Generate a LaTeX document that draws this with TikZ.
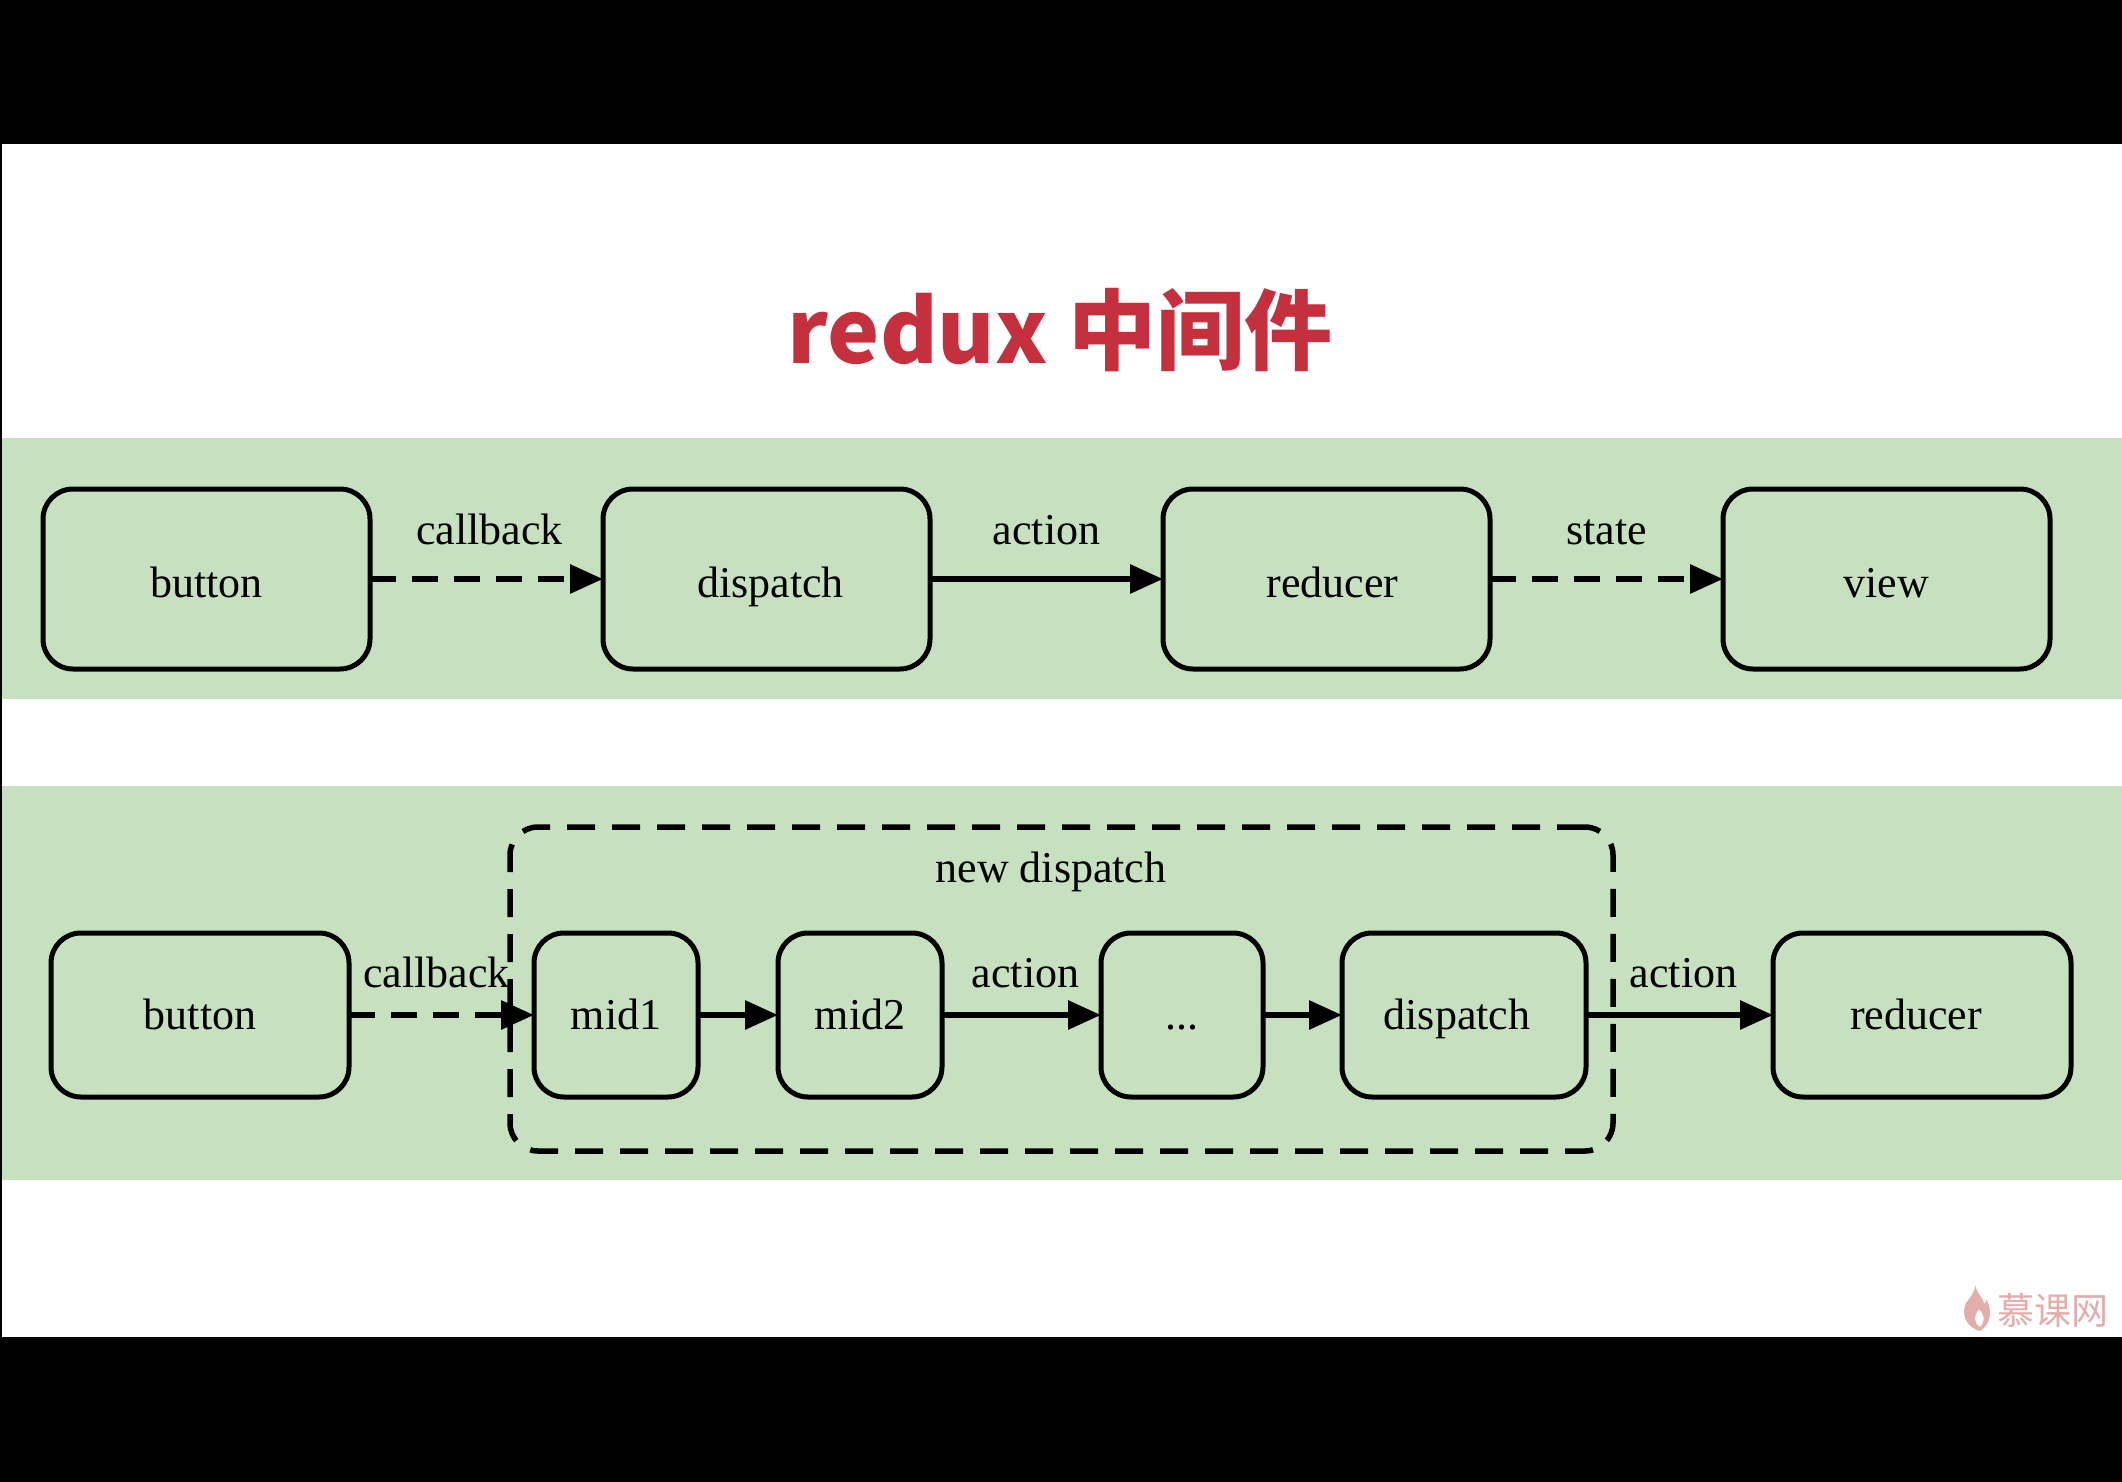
\documentclass[tikz,border=0pt]{standalone}
\usepackage{xcolor}
\usepackage{fontspec}
\usepackage{tikz}
\usetikzlibrary{positioning,arrows.meta}
\setmainfont{Liberation Serif}
\newfontfamily\cjkfont{Noto Sans CJK SC}
\definecolor{bandgreen}{HTML}{C7E0BF}
\definecolor{titlered}{HTML}{C5303F}
\definecolor{markpink}{HTML}{E2ADAB}

\begin{document}
\begin{tikzpicture}[
    x=1pt, y=-1pt,
    every node/.style={font=\fontsize{44}{50}\selectfont, outer sep=0pt},
    band/.style={fill=bandgreen},
    box/.style={draw, line width=5pt, rounded corners=30pt, text depth=9pt},
    wide/.style={box, minimum height=180pt, minimum width=327pt, text height=45pt},
    low/.style={box, minimum height=164pt, minimum width=#1, text height=38pt},
    group/.style={draw, line width=5.5pt, rounded corners=28pt, dash pattern=on 28pt off 17pt},
    flow/.style={line width=6pt, -{Triangle[length=33pt,width=28pt]}},
    flowdash/.style={flow, dash pattern=on 26pt off 16pt},
    tag/.style={inner sep=0pt, text height=30pt, text depth=9pt, above=#1}
]
\useasboundingbox (0,0) rectangle (2122,1482);
\fill[black] (0,0) rectangle (2122,1482);
\fill[white] (1.5,144) rectangle (2122,1337);
\fill[band] (1.5,438) rectangle (2122,699);
\fill[band] (1.5,786) rectangle (2122,1180);

\node[font=\cjkfont\bfseries\fontsize{88}{100}\selectfont, text=titlered] (title) at (1060,330) {redux 中间件};

\node[wide] (button) at (206.5,579) {button};
\node[wide, right=233pt of button] (dispatch) {\hspace*{8pt}dispatch};
\node[wide, right=233pt of dispatch] (reducer) {\hspace*{12pt}reducer};
\node[wide, right=233pt of reducer] (view) {view};

\draw[flowdash] (button) -- node[tag=26pt, xshift=3pt] (callback) {callback} (dispatch);
\draw[flow] (dispatch) -- node[tag=26pt] (action) {action} (reducer);
\draw[flowdash] (reducer) -- node[tag=26pt] (state) {state} (view);

\node[low=298pt] (button2) at (200,1015) {button};
\node[low=164pt, right=185pt of button2] (mid1) {mid1};
\node[low=164pt, right=80pt of mid1] (mid2) {mid2};
\node[low=162pt, right=159pt of mid2] (more) {...};
\node[low=244pt, right=79pt of more] (dispatch2) {dispatch\hspace*{14pt}};
\node[low=298pt, right=187pt of dispatch2] (reducer2) {reducer\hspace*{12pt}};

\node[group, minimum width=1103pt, minimum height=324pt] (newdispatch) at (1061.5,989) {};
\node[inner sep=0pt] (newlabel) at (1051,872) {new dispatch};

\draw[flowdash] (button2) -- node[tag=19pt, xshift=-5pt] (callback2) {callback} (mid1);
\draw[flow] (mid1) -- (mid2);
\draw[flow] (mid2) -- node[tag=19pt, xshift=4pt] (action2) {action} (more);
\draw[flow] (more) -- (dispatch2);
\draw[flow] (dispatch2) -- node[tag=19pt, xshift=4pt] (action3) {action} (reducer2);

\fill[markpink, even odd rule] (1975,1285) .. controls (1978,1296) and (1984,1298) .. (1984,1304)
    .. controls (1986,1303) and (1986,1301) .. (1986,1299)
    .. controls (1992,1308) and (1992,1324) .. (1980,1331)
    .. controls (1968,1328) and (1960,1316) .. (1966,1303)
    .. controls (1970,1297) and (1975,1293) .. (1975,1285)
    (1979,1309) .. controls (1986,1316) and (1984,1324) .. (1980,1327)
    .. controls (1974,1324) and (1973,1316) .. (1979,1309);
\node[font=\cjkfont\fontsize{37}{40}\selectfont, text=markpink, inner sep=0pt] (watermark) at (2053,1310) {慕课网};
\end{tikzpicture}
\end{document}
